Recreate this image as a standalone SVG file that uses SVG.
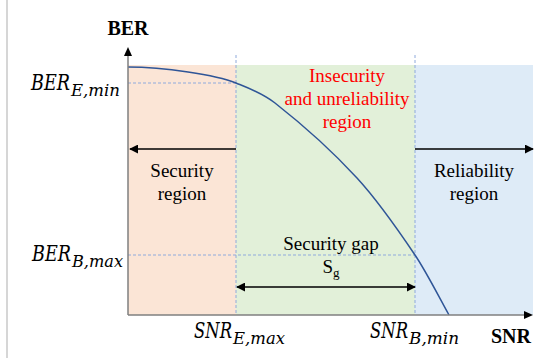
<svg xmlns="http://www.w3.org/2000/svg" width="555" height="358" viewBox="0 0 555 358">
<style>
.t{font-family:"Liberation Serif","Times New Roman",serif;font-size:19px;fill:#000;text-anchor:middle}
.red{fill:#FF0000}
.b{font-family:"Liberation Serif","Times New Roman",serif;font-size:20px;font-weight:bold;fill:#000}
.m{font-family:"DejaVu Serif",serif;font-style:italic;fill:#000;font-size:22px}
.s{font-family:"DejaVu Serif",serif;font-style:italic;fill:#000;font-size:16px}
.dash{stroke:#8FAADC;stroke-width:1;stroke-dasharray:3,2;fill:none}
.ax{stroke:#7F7F7F;stroke-width:1.5;fill:none}
.arr{stroke:#000;stroke-width:1.5;fill:none}
</style>
<defs>
<marker id="ah" viewBox="0 0 10 10" refX="9" refY="5" markerWidth="9" markerHeight="9" markerUnits="userSpaceOnUse" orient="auto-start-reverse">
<path d="M0,0 L10,5 L0,10 Z" fill="#000"/>
</marker>
</defs>
<rect width="555" height="358" fill="#fff"/>
<line x1="7" y1="0" x2="7" y2="358" stroke="#C8C8C8" stroke-width="1.5"/>
<g id="regions">
<rect id="security-bg" x="128" y="65" width="108" height="250" fill="#FBE5D6"/>
<rect id="gap-bg" x="236" y="65" width="179" height="250" fill="#E2F0D9"/>
<rect id="reliability-bg" x="415" y="65" width="118" height="250" fill="#DEEBF7"/>
</g>
<g id="guides">
<line class="dash" x1="236" y1="55" x2="236" y2="314"/>
<line class="dash" x1="415" y1="55" x2="415" y2="314"/>
<line class="dash" x1="128" y1="83" x2="236" y2="83"/>
<line class="dash" x1="128" y1="255" x2="415" y2="255"/>
</g>
<g id="curve">
<path d="M128,67 C164,67 216,75 236,83 C249,88.2 262,92.8 275,103 C302,124.2 330,148.7 357,178 C376.3,199 395.7,226.3 415,255 C426.3,271.8 437.7,294.7 449,315" fill="none" stroke="#2F5597" stroke-width="1.5"/>
</g>
<g id="axes">
<line class="ax" x1="128" y1="315" x2="128" y2="56"/>
<path d="M124,56 L128,47 L132,56 Z" fill="#000"/>
<line class="ax" x1="128" y1="315" x2="524" y2="315"/>
<path d="M524,311 L533,315 L524,319 Z" fill="#000"/>
</g>
<g id="connectors">
<line class="arr" x1="236" y1="149" x2="130" y2="149" marker-end="url(#ah)"/>
<line class="arr" x1="415" y1="149" x2="533" y2="149" marker-end="url(#ah)"/>
<line class="arr" x1="237" y1="287" x2="415" y2="287" marker-start="url(#ah)" marker-end="url(#ah)"/>
</g>
<g id="axis-titles">
<text class="b" x="128" y="35" text-anchor="middle">BER</text>
<text class="b" x="511" y="343" text-anchor="middle">SNR</text>
</g>
<g id="ber-e-min">
<text class="m" x="31" y="90" textLength="39" lengthAdjust="spacingAndGlyphs">BER</text>
<text class="s" x="71" y="96" textLength="49" lengthAdjust="spacingAndGlyphs">E,min</text>
</g>
<g id="ber-b-max">
<text class="m" x="32" y="261" textLength="39" lengthAdjust="spacingAndGlyphs">BER</text>
<text class="s" x="72" y="267" textLength="51" lengthAdjust="spacingAndGlyphs">B,max</text>
</g>
<g id="snr-e-max">
<text class="m" x="194" y="338" textLength="38" lengthAdjust="spacingAndGlyphs">SNR</text>
<text class="s" x="233" y="344" textLength="52" lengthAdjust="spacingAndGlyphs">E,max</text>
</g>
<g id="snr-b-min">
<text class="m" x="370" y="338" textLength="38" lengthAdjust="spacingAndGlyphs">SNR</text>
<text class="s" x="409" y="344" textLength="50" lengthAdjust="spacingAndGlyphs">B,min</text>
</g>
<g id="insecurity-label">
<text class="t red" x="347" y="82">Insecurity</text>
<text class="t red" x="347" y="105">and unreliability</text>
<text class="t red" x="347" y="128">region</text>
</g>
<g id="security-label">
<text class="t" x="182" y="177">Security</text>
<text class="t" x="182" y="200">region</text>
</g>
<g id="reliability-label">
<text class="t" x="474" y="177">Reliability</text>
<text class="t" x="474" y="200">region</text>
</g>
<g id="gap-label">
<text class="t" x="331" y="250">Security gap</text>
<text class="t" x="331" y="273">S<tspan font-size="13" dy="4">g</tspan></text>
</g>
</svg>
